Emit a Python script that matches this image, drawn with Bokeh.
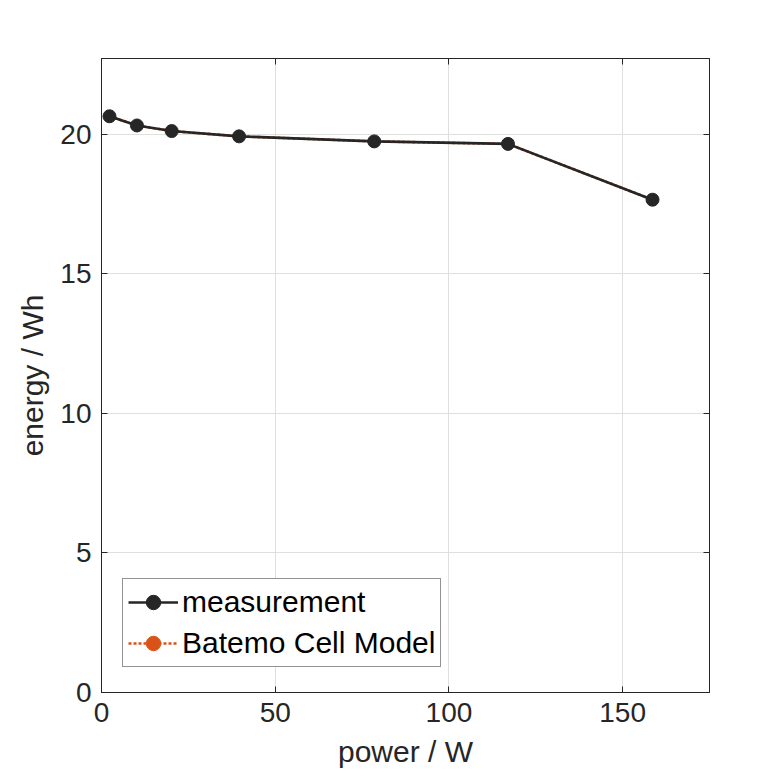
from bokeh.plotting import figure
from bokeh.models import (FixedTicker, LinearAxis, Range1d, Legend, LegendItem,
                          ColumnDataSource, CustomJSTickFormatter)
from bokeh.embed import file_html
from bokeh.resources import INLINE

# measurement data
power_meas = [2.3, 10.2, 20.2, 39.6, 78.5, 117.0, 158.6]
energy_meas = [20.65, 20.32, 20.12, 19.93, 19.75, 19.66, 17.66]

# model data (fully covered by the measurement curve in the reference)
power_model = [2.3, 10.2, 20.2, 39.6, 78.5, 117.0, 158.6]
energy_model = [20.65, 20.32, 20.12, 19.93, 19.75, 19.66, 17.66]

x_ticks = [0, 50, 100, 150]
y_ticks = [0, 5, 10, 15, 20]

FONT = "Liberation Sans"
TXT = "#262626"

p = figure(width=781, height=781, output_backend="svg", toolbar_location=None,
           x_range=Range1d(0, 175), y_range=Range1d(0, 22.72),
           min_border_left=101, min_border_right=72, min_border_top=58, min_border_bottom=89)
p.background_fill_color = "white"
p.border_fill_color = "white"
p.outline_line_color = TXT
p.outline_line_width = 1

for ax in (p.xaxis[0], p.yaxis[0]):
    ax.major_label_text_font = FONT
    ax.major_label_text_font_size = "28px"
    ax.major_label_text_color = TXT
    ax.axis_label_text_font = FONT
    ax.axis_label_text_font_size = "30px"
    ax.axis_label_text_color = TXT
    ax.axis_label_text_font_style = "normal"
    ax.axis_line_color = TXT
    ax.major_tick_line_color = TXT
    ax.major_tick_in = 6
    ax.major_tick_out = 0
    ax.minor_tick_line_color = None

p.xaxis[0].ticker = FixedTicker(ticks=x_ticks)
p.yaxis[0].ticker = FixedTicker(ticks=y_ticks)
p.xaxis[0].axis_label = "power / W"
p.yaxis[0].axis_label = "energy / Wh"
p.xaxis[0].major_label_standoff = 10
p.yaxis[0].major_label_standoff = 10
p.xaxis[0].axis_label_standoff = 10
p.yaxis[0].axis_label_standoff = 8

for loc, tk in (("right", y_ticks), ("above", x_ticks)):
    a = LinearAxis(ticker=FixedTicker(ticks=tk),
                   formatter=CustomJSTickFormatter(code="return '';"),
                   major_label_standoff=0,
                   major_tick_in=6, major_tick_out=0, minor_tick_line_color=None,
                   axis_line_color=TXT, major_tick_line_color=TXT)
    p.add_layout(a, loc)

p.xgrid.ticker = FixedTicker(ticks=x_ticks)
p.ygrid.ticker = FixedTicker(ticks=y_ticks)
p.grid.grid_line_color = "#dfdfdf"
p.grid.grid_line_width = 1

src_m = ColumnDataSource(dict(x=power_meas, y=energy_meas))
src_b = ColumnDataSource(dict(x=power_model, y=energy_model))

# model drawn first so it lies beneath the measurement
l2 = p.line("x", "y", source=src_b, line_color="#D95319", line_width=2.6, line_dash="3 2")
s2 = p.scatter("x", "y", source=src_b, size=8, fill_color="#D95319", line_color="#D95319")
l1 = p.line("x", "y", source=src_m, line_color=TXT, line_width=2.6)
s1 = p.scatter("x", "y", source=src_m, size=13, fill_color=TXT, line_color=TXT)

legend = Legend(items=[LegendItem(label="measurement", renderers=[l1, s1]),
                       LegendItem(label="Batemo Cell Model", renderers=[l2, s2])],
                location=(21, 25))
legend.label_text_font = FONT
legend.label_text_font_size = "30px"
legend.label_text_color = "black"
legend.glyph_width = 50
legend.glyph_height = 36
legend.label_height = 36
legend.label_standoff = 4
legend.spacing = 5
legend.padding = 5
legend.margin = 0
legend.border_line_color = TXT
legend.border_line_width = 1
legend.background_fill_color = "white"
legend.background_fill_alpha = 1
p.add_layout(legend, "center")

open("out.html", "w").write(file_html(p, INLINE))
